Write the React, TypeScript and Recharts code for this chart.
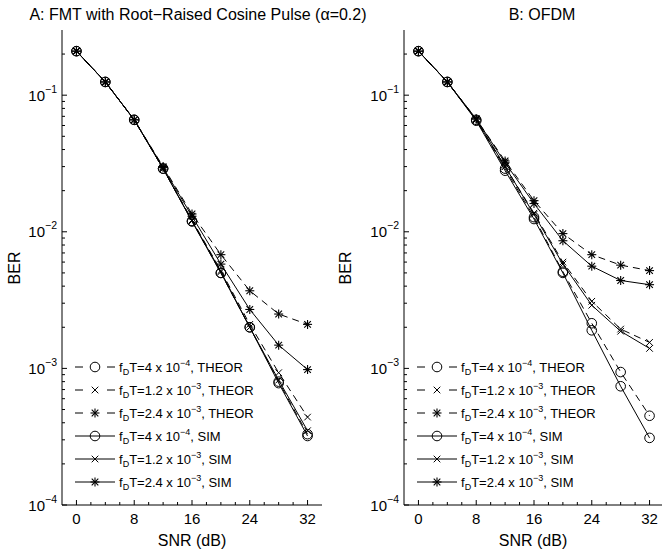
import React from 'react';
import { LineChart, Line, XAxis, YAxis, Legend, ReferenceArea } from 'recharts';

// SNR grid (dB)
const snr = [0, 4, 8, 12, 16, 20, 24, 28, 32];

// A: FMT, BER values
const fmtTheor4e4 = [0.21, 0.125, 0.066, 0.029, 0.012, 0.005, 0.002, 0.0008, 0.00033];
const fmtTheor12e3 = [0.21, 0.125, 0.066, 0.029, 0.0122, 0.0052, 0.0021, 0.00093, 0.00044];
const fmtTheor24e3 = [0.21, 0.125, 0.066, 0.03, 0.0135, 0.0068, 0.0037, 0.0025, 0.0021];
const fmtSim4e4 = [0.21, 0.125, 0.066, 0.029, 0.0119, 0.005, 0.002, 0.00078, 0.00032];
const fmtSim12e3 = [0.21, 0.125, 0.066, 0.029, 0.012, 0.0051, 0.002, 0.00082, 0.00035];
const fmtSim24e3 = [0.21, 0.125, 0.066, 0.0295, 0.013, 0.0058, 0.0027, 0.00148, 0.00098];

// B: OFDM
const ofdmTheor4e4 = [0.21, 0.125, 0.066, 0.029, 0.0128, 0.0051, 0.00214, 0.00094, 0.00045];
const ofdmTheor12e3 = [0.21, 0.125, 0.066, 0.03, 0.0137, 0.006, 0.0031, 0.00194, 0.00155];
const ofdmTheor24e3 = [0.21, 0.125, 0.067, 0.033, 0.0169, 0.0097, 0.0068, 0.0057, 0.0052];
const ofdmSim4e4 = [0.21, 0.125, 0.065, 0.028, 0.0124, 0.005, 0.0019, 0.00074, 0.00031];
const ofdmSim12e3 = [0.21, 0.125, 0.066, 0.03, 0.0134, 0.0058, 0.0029, 0.00187, 0.0014];
const ofdmSim24e3 = [0.21, 0.125, 0.067, 0.032, 0.0161, 0.0086, 0.0056, 0.0044, 0.0041];

// legend text pieces
const fdtMant = ['4', '1.2', '2.4'];
const fdtExp = ['\u22124', '\u22123', '\u22123'];
const kinds = ['THEOR', 'SIM'];

// ticks
const xTicks = [0, 2, 4, 6, 8, 10, 12, 14, 16, 18, 20, 22, 24, 26, 28, 30, 32];
const xMajor = [0, 8, 16, 24, 32];
const yDecades = [-4, -3, -2, -1];
const yMult = [1, 2, 3, 4, 5, 6, 7, 8, 9];
const yTicks = yDecades
  .flatMap((d) => yMult.map((m) => Number((m * Math.pow(10, d)).toPrecision(3))))
  .filter((v) => v < 0.25);

const FONT = '"Liberation Sans", Arial, Helvetica, sans-serif';

type Shape = 'circle' | 'x' | 'star';
const shapes: Shape[] = ['circle', 'x', 'star'];

const series = kinds.flatMap((kind, k) =>
  shapes.map((shape, i) => ({
    key: `${k === 0 ? 't' : 's'}${i}`,
    shape,
    dashed: k === 0,
    mant: fdtMant[i],
    exp: fdtExp[i],
    kind,
  }))
);

function buildRows(cols: number[][]) {
  return snr.map((s, i) => ({
    snr: s,
    t0: cols[0][i],
    t1: cols[1][i],
    t2: cols[2][i],
    s0: cols[3][i],
    s1: cols[4][i],
    s2: cols[5][i],
  }));
}

const fmtData = buildRows([fmtTheor4e4, fmtTheor12e3, fmtTheor24e3, fmtSim4e4, fmtSim12e3, fmtSim24e3]);
const ofdmData = buildRows([ofdmTheor4e4, ofdmTheor12e3, ofdmTheor24e3, ofdmSim4e4, ofdmSim12e3, ofdmSim24e3]);

function Marker({ shape, cx, cy }: { shape: Shape; cx: number; cy: number }) {
  if (shape === 'circle') {
    return <circle cx={cx} cy={cy} r={4.8} fill="none" stroke="#000" strokeWidth={1} />;
  }
  const a = 3.3;
  if (shape === 'x') {
    return (
      <g stroke="#000" strokeWidth={1}>
        <line x1={cx - a} y1={cy - a} x2={cx + a} y2={cy + a} />
        <line x1={cx - a} y1={cy + a} x2={cx + a} y2={cy - a} />
      </g>
    );
  }
  const b = 4.5;
  return (
    <g stroke="#000" strokeWidth={1.1}>
      <line x1={cx - b} y1={cy} x2={cx + b} y2={cy} />
      <line x1={cx} y1={cy - b} x2={cx} y2={cy + b} />
      <line x1={cx - a} y1={cy - a} x2={cx + a} y2={cy + a} />
      <line x1={cx - a} y1={cy + a} x2={cx + a} y2={cy - a} />
    </g>
  );
}

function XTick(props: any) {
  const { x, y, payload, top } = props;
  const v = payload.value;
  const major = xMajor.includes(v);
  const len = major ? 5 : 3;
  return (
    <g>
      <line x1={x} y1={y} x2={x} y2={top ? y + len : y - len} stroke="#000" />
      {!top && major && (
        <text x={x} y={y + 19} textAnchor="middle" fontSize={15} fontFamily={FONT} fill="#000">
          {v}
        </text>
      )}
    </g>
  );
}

function YTick(props: any) {
  const { x, y, payload, right } = props;
  const v = payload.value;
  const exp = Math.round(Math.log10(v));
  const major = Math.abs(v / Math.pow(10, exp) - 1) < 1e-6;
  const len = major ? 5 : 3;
  return (
    <g>
      <line x1={x} y1={y} x2={right ? x - len : x + len} y2={y} stroke="#000" />
      {!right && major && (
        <text x={x - 5} y={y + 5.5} textAnchor="end" fontSize={15} fontFamily={FONT} fill="#000">
          10
          <tspan dy={-8} fontSize={10.5}>
            {'\u2212' + Math.abs(exp)}
          </tspan>
        </text>
      )}
    </g>
  );
}

function LegendBox() {
  return (
    <svg width={240} height={140} style={{ display: 'block', overflow: 'visible' }}>
      {series.map((s, i) => {
        const y = 12 + i * 23;
        return (
          <g key={s.key}>
            {s.dashed ? (
              <g stroke="#000" strokeWidth={1}>
                <line x1={0} y1={y} x2={8} y2={y} />
                <line x1={32} y1={y} x2={40} y2={y} />
              </g>
            ) : (
              <line x1={0} y1={y} x2={40} y2={y} stroke="#000" strokeWidth={1} />
            )}
            <Marker shape={s.shape} cx={20} cy={y} />
            <text x={44} y={y + 4.5} fontSize={13} fontFamily={FONT} fill="#000">
              f
              <tspan dy={3} fontSize={9}>D</tspan>
              <tspan dy={-3}>{`T=${s.mant} x 10`}</tspan>
              <tspan dy={-6} fontSize={9}>{s.exp}</tspan>
              <tspan dy={6}>{`, ${s.kind}`}</tspan>
            </text>
          </g>
        );
      })}
    </svg>
  );
}

function Panel({ data, left, width, right }: { data: any[]; left: number; width: number; right: number }) {
  return (
    <div style={{ position: 'absolute', left, top: 0 }}>
      <LineChart width={width} height={551} data={data} margin={{ top: 30, right, bottom: 0, left: 0 }}>
        <XAxis
          xAxisId="b"
          dataKey="snr"
          type="number"
          domain={[-2, 34]}
          ticks={xTicks}
          interval={0}
          tickSize={0}
          tickMargin={0}
          height={46}
          axisLine={{ stroke: '#000' }}
          tick={(p: any) => <XTick {...p} />}
          allowDataOverflow
        />
        <XAxis
          xAxisId="t"
          orientation="top"
          mirror
          dataKey="snr"
          type="number"
          domain={[-2, 34]}
          ticks={xTicks}
          interval={0}
          tickSize={0}
          tickMargin={0}
          height={0}
          axisLine={{ stroke: '#000' }}
          tick={(p: any) => <XTick {...p} top />}
          allowDataOverflow
        />
        <YAxis
          yAxisId="l"
          type="number"
          scale="log"
          domain={[0.0001, 0.3]}
          ticks={yTicks}
          interval={0}
          tickSize={0}
          tickMargin={0}
          width={62}
          axisLine={{ stroke: '#000' }}
          tick={(p: any) => <YTick {...p} />}
          allowDataOverflow
        />
        <YAxis
          yAxisId="r"
          orientation="right"
          mirror
          type="number"
          scale="log"
          domain={[0.0001, 0.3]}
          ticks={yTicks}
          interval={0}
          tickSize={0}
          tickMargin={0}
          width={0}
          axisLine={{ stroke: '#000' }}
          tick={(p: any) => <YTick {...p} right />}
          allowDataOverflow
        />
        <Legend
          layout="vertical"
          align="center"
          verticalAlign="middle"
          wrapperStyle={{ left: 75, top: 355, width: 240 }}
          content={() => <LegendBox />}
        />
        {series.map((s) => (
          <Line
            key={s.key}
            xAxisId="b"
            yAxisId="l"
            dataKey={s.key}
            stroke="#000"
            strokeWidth={1}
            strokeDasharray={s.dashed ? '7 5' : undefined}
            dot={(p: any) => (
              <g key={`${s.key}-${p.index}`}>
                <Marker shape={s.shape} cx={p.cx} cy={p.cy} />
              </g>
            )}
            activeDot={false}
            legendType="none"
            isAnimationActive={false}
          />
        ))}
      </LineChart>
    </div>
  );
}

export default function App() {
  return (
    <div
      style={{
        position: 'absolute',
        left: 0,
        top: 0,
        width: 662,
        height: 551,
        overflow: 'hidden',
        background: '#fff',
        fontFamily: FONT,
      }}
    >
      <Panel data={fmtData} left={0} width={331} right={9} />
      <Panel data={ofdmData} left={342} width={330} right={8} />
      <svg
        width={662}
        height={551}
        style={{ position: 'absolute', left: 0, top: 0, pointerEvents: 'none' }}
        fontFamily={FONT}
      >
        <text x={198} y={20} textAnchor="middle" fontSize={16}>
          A: FMT with Root{'\u2212'}Raised Cosine Pulse ({'\u03b1'}=0.2)
        </text>
        <text x={542} y={20} textAnchor="middle" fontSize={16}>
          B: OFDM
        </text>
        <text x={192} y={546} textAnchor="middle" fontSize={16}>
          SNR (dB)
        </text>
        <text x={533} y={546} textAnchor="middle" fontSize={16}>
          SNR (dB)
        </text>
        <text transform="translate(20,268) rotate(-90)" textAnchor="middle" fontSize={16}>
          BER
        </text>
        <text transform="translate(351,268) rotate(-90)" textAnchor="middle" fontSize={16}>
          BER
        </text>
      </svg>
    </div>
  );
}
